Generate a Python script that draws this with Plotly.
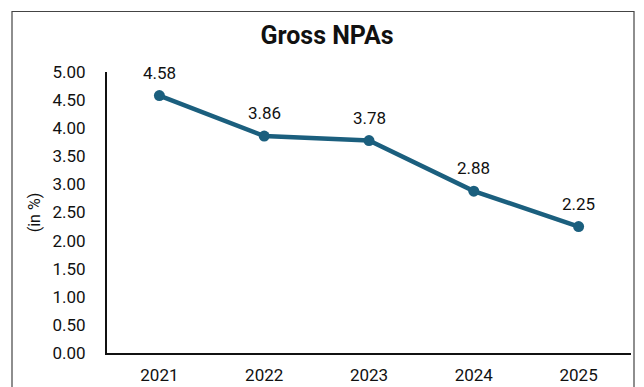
import plotly.graph_objects as go

years = ["2021", "2022", "2023", "2024", "2025"]
gross_npa = [4.58, 3.86, 3.78, 2.88, 2.25]
y_ticks = [0, 0.5, 1, 1.5, 2, 2.5, 3, 3.5, 4, 4.5, 5]
y_tick_labels = [f"{v:.2f}" for v in y_ticks]

W, H = 644, 387
L, R, T, B = 107, 13, 72, 34
pw, ph = W - L - R, H - T - B

line_color = "#1b5f7e"
font = "Roboto, Arial, sans-serif"

fig = go.Figure()
fig.add_trace(go.Scatter(
    x=years, y=gross_npa, mode="lines+markers",
    line=dict(color=line_color, width=4.5),
    marker=dict(color=line_color, size=11),
    hoverinfo="skip", showlegend=False,
))
for i, y in enumerate(gross_npa):
    fig.add_annotation(x=i, y=y, xref="x", yref="y", text=f"{y:.2f}",
                       showarrow=False, yshift=23,
                       font=dict(family=font, size=17, color="#111"))

# outer frame
fig.add_shape(type="rect", xref="paper", yref="paper",
              x0=(12 - L) / pw, x1=(634 - L) / pw,
              y0=-(H + 20 - T - ph) / ph, y1=(H - B - 11.5) / ph,
              line=dict(color="#444", width=1.2), layer="below")

fig.update_layout(
    width=W, height=H,
    margin=dict(l=L, r=R, t=T, b=B, autoexpand=False),
    paper_bgcolor="white", plot_bgcolor="white",
    title=dict(text="<b>Gross NPAs</b>", x=327 / W, xanchor="center",
               y=1 - 35 / H, yanchor="middle",
               font=dict(family=font, size=25, color="#111")),
    font=dict(family=font, size=17, color="#111"),
)
fig.update_xaxes(type="category", range=[-0.5, 4.5], showgrid=False,
                 showline=True, linecolor="#111", linewidth=2,
                 ticks="", ticklabelstandoff=6, automargin=False,
                 tickfont=dict(family=font, size=17, color="#111"))
fig.update_yaxes(range=[0, 5], tickvals=y_ticks, ticktext=y_tick_labels,
                 showgrid=False, zeroline=False, automargin=False,
                 showline=True, linecolor="#111", linewidth=2,
                 ticks="", ticklabelstandoff=16,
                 title=dict(text="(in %)", standoff=8,
                            font=dict(family=font, size=16, color="#111")),
                 tickfont=dict(family=font, size=17, color="#111"))

fig.write_html("out.html")
